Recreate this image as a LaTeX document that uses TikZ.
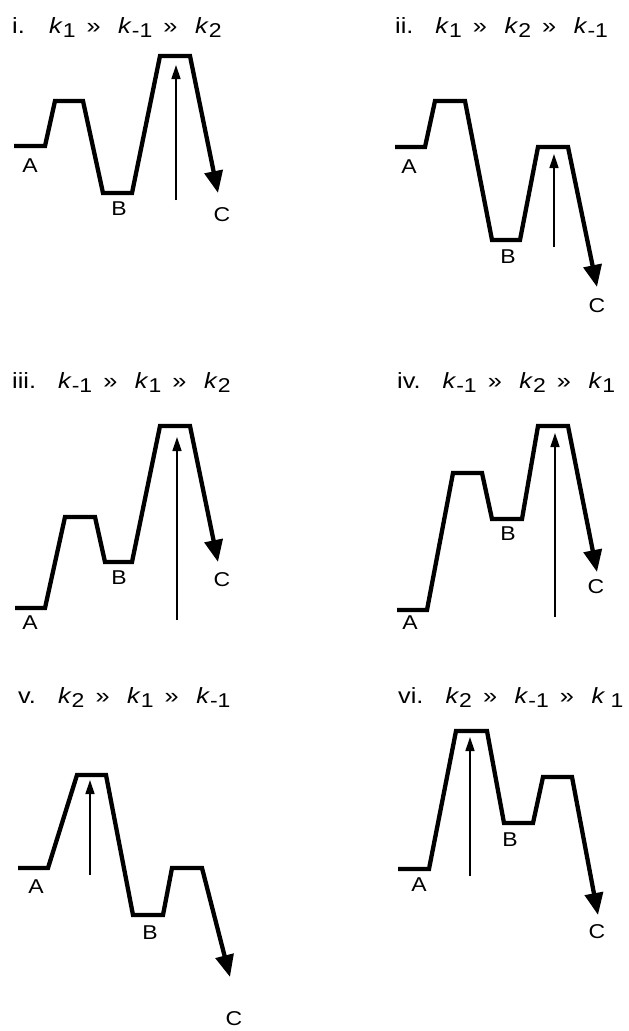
\documentclass[tikz,border=0pt]{standalone}
\usepackage{fontspec}
\setmainfont[FakeStretch=1.15]{Liberation Sans}
\usetikzlibrary{arrows.meta}
\newcommand{\kr}[1]{\textit{k}\raisebox{-0.2em}{\fontsize{20}{20}\selectfont #1}}
\newcommand{\muchgt}{\hspace{0.5em}»\hspace{0.8em}}
\tikzstyle{profile} = [line width=4.3pt, -{Triangle[length=22pt,width=18pt]}]
\tikzstyle{rate} = [line width=1.4pt, -{Triangle[length=14pt,width=9pt]}]
\tikzstyle{state} = [inner sep=0pt, font=\fontsize{20}{22}\selectfont]
\tikzstyle{heading} = [inner sep=0pt, anchor=base west, font=\fontsize{22}{24}\selectfont]

\begin{document}
\begin{tikzpicture}[x=1pt, y=-1pt]
    \useasboundingbox (0,0) rectangle (629,1031);

    \node (ti) [heading] at (12,33) {i.\hspace{1.1em}\kr{1}\muchgt\kr{-1}\muchgt\kr{2}};
    \draw [profile] (14,146) -- (45,146) -- (55,101) -- (83,101) -- (103,193) -- (132,193) -- (160,56) -- (190,56) -- (218,193);
    \coordinate (ri0) at (176,200);
    \coordinate (ri1) at (176,65);
    \draw [rate] (ri0) -- (ri1);
    \node (Ai) [state] at (30,166) {A};
    \node (Bi) [state] at (119,209) {B};
    \node (Ci) [state] at (222,215) {C};

    \node (tii) [heading] at (395,33) {ii.\hspace{1em}\kr{1}\muchgt\kr{2}\muchgt\kr{-1}};
    \draw [profile] (395,147) -- (425,147) -- (435,101) -- (465,101) -- (492,240) -- (520,240) -- (538,147) -- (568,147) -- (597,287);
    \coordinate (rii0) at (554,247);
    \coordinate (rii1) at (554,154);
    \draw [rate] (rii0) -- (rii1);
    \node (Aii) [state] at (409,167) {A};
    \node (Bii) [state] at (508,257) {B};
    \node (Cii) [state] at (597,306) {C};

    \node (tiii) [heading] at (12,388) {iii.\hspace{1em}\kr{-1}\muchgt\kr{1}\muchgt\kr{2}};
    \draw [profile] (15,608) -- (45,608) -- (65,517) -- (95,517) -- (105,562) -- (132,562) -- (160,426) -- (190,426) -- (218,562);
    \coordinate (riii0) at (177,620);
    \coordinate (riii1) at (177,437);
    \draw [rate] (riii0) -- (riii1);
    \node (Aiii) [state] at (30,623) {A};
    \node (Biii) [state] at (119,578) {B};
    \node (Ciii) [state] at (222,580) {C};

    \node (tiv) [heading] at (397,388) {iv.\hspace{1em}\kr{-1}\muchgt\kr{2}\muchgt\kr{1}};
    \draw [profile] (397,610) -- (427,610) -- (453,473) -- (482,473) -- (492,519) -- (522,519) -- (538,426) -- (568,426) -- (597,572);
    \coordinate (riv0) at (555,617);
    \coordinate (riv1) at (555,433);
    \draw [rate] (riv0) -- (riv1);
    \node (Aiv) [state] at (410,623) {A};
    \node (Biv) [state] at (508,534) {B};
    \node (Civ) [state] at (596,587) {C};

    \node (tv) [heading] at (18,703) {v.\hspace{1em}\kr{2}\muchgt\kr{1}\muchgt\kr{-1}};
    \draw [profile] (18,868) -- (48,868) -- (77,775) -- (106,775) -- (133,915) -- (163,915) -- (172,868) -- (202,868) -- (230,977);
    \coordinate (rv0) at (90,875);
    \coordinate (rv1) at (90,780);
    \draw [rate] (rv0) -- (rv1);
    \node (Av) [state] at (36,887) {A};
    \node (Bv) [state] at (150,933) {B};
    \node (Cv) [state] at (234,1019) {C};

    \node (tvi) [heading] at (398,703) {vi.\hspace{1em}\kr{2}\muchgt\kr{-1}\muchgt\textit{k}\hspace{0.25em}\raisebox{-0.2em}{\fontsize{20}{20}\selectfont 1}};
    \draw [profile] (398,869) -- (429,869) -- (456,731) -- (487,731) -- (504,823) -- (533,823) -- (543,777) -- (572,777) -- (598,915);
    \coordinate (rvi0) at (470,876);
    \coordinate (rvi1) at (470,737);
    \draw [rate] (rvi0) -- (rvi1);
    \node (Avi) [state] at (419,885) {A};
    \node (Bvi) [state] at (510,840) {B};
    \node (Cvi) [state] at (597,932) {C};
\end{tikzpicture}
\end{document}
